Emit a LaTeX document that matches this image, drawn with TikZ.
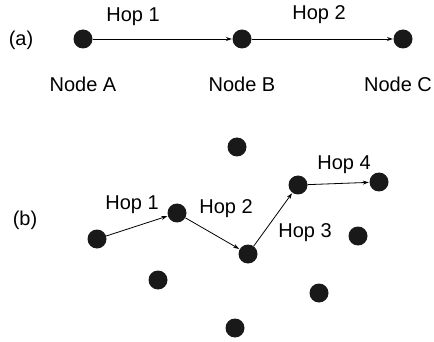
\documentclass[tikz,border=0pt]{standalone}
\usepackage{fontspec}
\setmainfont{Liberation Sans}
\usetikzlibrary{arrows.meta}
\begin{document}
\begin{tikzpicture}[x=1pt,y=-1pt,
  dot/.style={circle,fill=black!90,draw=none,minimum size=19pt,inner sep=0pt},
  lbl/.style={font=\fontsize{20}{24}\selectfont,inner sep=0pt},
  hop/.style={line width=0.8pt,-{Stealth[length=6pt,width=4pt]},shorten >=0.5pt}]
\useasboundingbox (0,0) rectangle (434,342);
% (a)
\node[lbl] (la) at (21,40) {(a)};
\node[dot] (A) at (83,39) {};
\node[dot] (B) at (242,39) {};
\node[dot] (C) at (403,39) {};
\node[lbl] (nA) at (83,84) {Node A};
\node[lbl] (nB) at (242,84) {Node B};
\node[lbl] (nC) at (398,84) {Node C};
\node[lbl] (h1a) at (133,17) {Hop 1};
\node[lbl] (h2a) at (319,15) {Hop 2};
\draw[hop] (A) -- (B);
\draw[hop] (B) -- (C);
% (b)
\node[lbl] (lb) at (25,220) {(b)};
\node[dot] (d1) at (237,147) {};
\node[dot] (p1) at (97,239) {};
\node[dot] (p2) at (177,213) {};
\node[dot] (p3) at (248,254) {};
\node[dot] (p4) at (298,185) {};
\node[dot] (p5) at (379,182) {};
\node[dot] (d2) at (358,236) {};
\node[dot] (d3) at (158,280) {};
\node[dot] (d4) at (319,293) {};
\node[dot] (d5) at (235,328) {};
\node[lbl] (h1) at (132,205) {Hop 1};
\node[lbl] (h2) at (226,209) {Hop 2};
\node[lbl] (h3) at (305,233) {Hop 3};
\node[lbl] (h4) at (344,165) {Hop 4};
\draw[hop] (p1) -- (p2);
\draw[hop] (p2) -- (p3);
\draw[hop] (p3) -- (p4);
\draw[hop] (p4) -- (p5);
\end{tikzpicture}
\end{document}
